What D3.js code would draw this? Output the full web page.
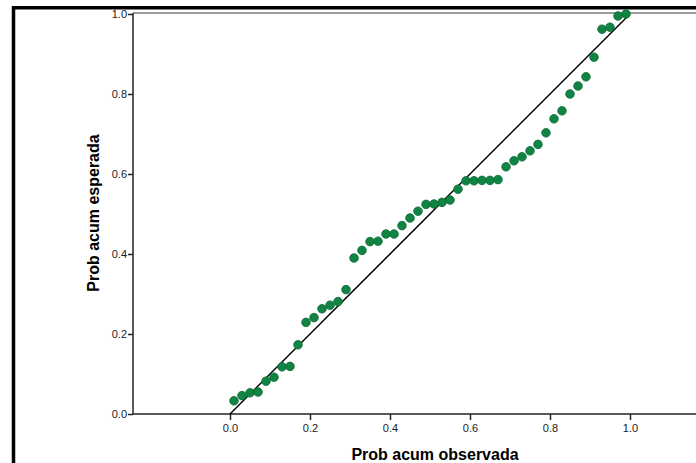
<!DOCTYPE html>
<html>
<head>
<meta charset="utf-8">
<script src="https://cdn.jsdelivr.net/npm/d3@7"></script>
<style>
  body { margin: 0; background: #fff; }
  svg { display: block; }
  text { font-family: "Liberation Sans", Arial, sans-serif; }
</style>
</head>
<body>
<svg id="chart" width="696" height="463"></svg>
<script>
// Observed cumulative probability (rank-based) and expected cumulative probability
const observed = d3.range(50).map(i => (i + 0.5) / 50);
const expected = [
  0.033, 0.046, 0.053, 0.055, 0.082, 0.092, 0.118, 0.119, 0.173, 0.229,
  0.241, 0.263, 0.272, 0.281, 0.311, 0.390, 0.409, 0.431, 0.432, 0.450,
  0.450, 0.471, 0.490, 0.507, 0.524, 0.525, 0.529, 0.535, 0.562, 0.583,
  0.583, 0.584, 0.584, 0.586, 0.618, 0.633, 0.643, 0.658, 0.674, 0.703,
  0.738, 0.758, 0.800, 0.820, 0.843, 0.892, 0.962, 0.967, 0.995, 1.000
];
const tickValues = [0.0, 0.2, 0.4, 0.6, 0.8, 1.0];
const xTitle = "Prob acum observada";
const yTitle = "Prob acum esperada";

const svg = d3.select("#chart");
const x = d3.scaleLinear().domain([0, 1]).range([230, 630]);
const y = d3.scaleLinear().domain([0, 1]).range([414, 14]);
const plotLeft = 133, plotRight = 696, plotTop = 13, plotBottom = 414;

// outer thick frame
svg.append("line").attr("x1", 13.5).attr("x2", 13.5).attr("y1", 6).attr("y2", 463)
  .attr("stroke", "#000").attr("stroke-width", 3.5);
svg.append("line").attr("x1", 12).attr("x2", 696).attr("y1", 7.7).attr("y2", 7.7)
  .attr("stroke", "#000").attr("stroke-width", 3.5);

// plot frame top (gray)
svg.append("line").attr("x1", plotLeft).attr("x2", plotRight).attr("y1", plotTop).attr("y2", plotTop)
  .attr("stroke", "#7a7a7a").attr("stroke-width", 1.5);

// axes
const xAxis = d3.axisBottom(x).tickValues(tickValues).tickFormat(d3.format(".1f")).tickSize(6).tickPadding(4);
const yAxis = d3.axisLeft(y).tickValues(tickValues).tickFormat(d3.format(".1f")).tickSize(5).tickPadding(1);

const gx = svg.append("g").attr("transform", `translate(0,${plotBottom})`).call(xAxis);
const gy = svg.append("g").attr("transform", `translate(${plotLeft},0)`).call(yAxis);
[gx, gy].forEach(g => {
  g.select(".domain").remove();
  g.selectAll(".tick line").attr("stroke", "#222").attr("stroke-width", 1.5);
  g.selectAll(".tick text").attr("fill", "#222").style("font-size", "11px")
    .style("font-family", "'Liberation Sans', Arial, sans-serif");
});

svg.append("line").attr("x1", plotLeft).attr("x2", plotLeft).attr("y1", plotTop).attr("y2", plotBottom)
  .attr("stroke", "#222").attr("stroke-width", 1.5);
svg.append("line").attr("x1", plotLeft).attr("x2", plotRight).attr("y1", plotBottom).attr("y2", plotBottom)
  .attr("stroke", "#222").attr("stroke-width", 1.5);

// reference diagonal
svg.append("line")
  .attr("x1", x(0)).attr("y1", y(0)).attr("x2", x(1)).attr("y2", y(1))
  .attr("stroke", "#000").attr("stroke-width", 1.5);

// points
svg.append("g").selectAll("circle")
  .data(observed.map((o, i) => ({ o, e: expected[i] })))
  .join("circle")
  .attr("cx", d => x(d.o))
  .attr("cy", d => y(d.e))
  .attr("r", 4.3)
  .attr("fill", "#0f8443")
  .attr("stroke", "#0b6a35")
  .attr("stroke-width", 0.8);

// titles
svg.append("text")
  .attr("x", 435).attr("y", 460)
  .attr("text-anchor", "middle")
  .style("font-size", "16px").style("font-weight", "bold")
  .attr("fill", "#000")
  .text(xTitle);

svg.append("text")
  .attr("transform", "translate(99,213) rotate(-90)")
  .attr("text-anchor", "middle")
  .style("font-size", "16px").style("font-weight", "bold")
  .attr("fill", "#000")
  .text(yTitle);
</script>
</body>
</html>
